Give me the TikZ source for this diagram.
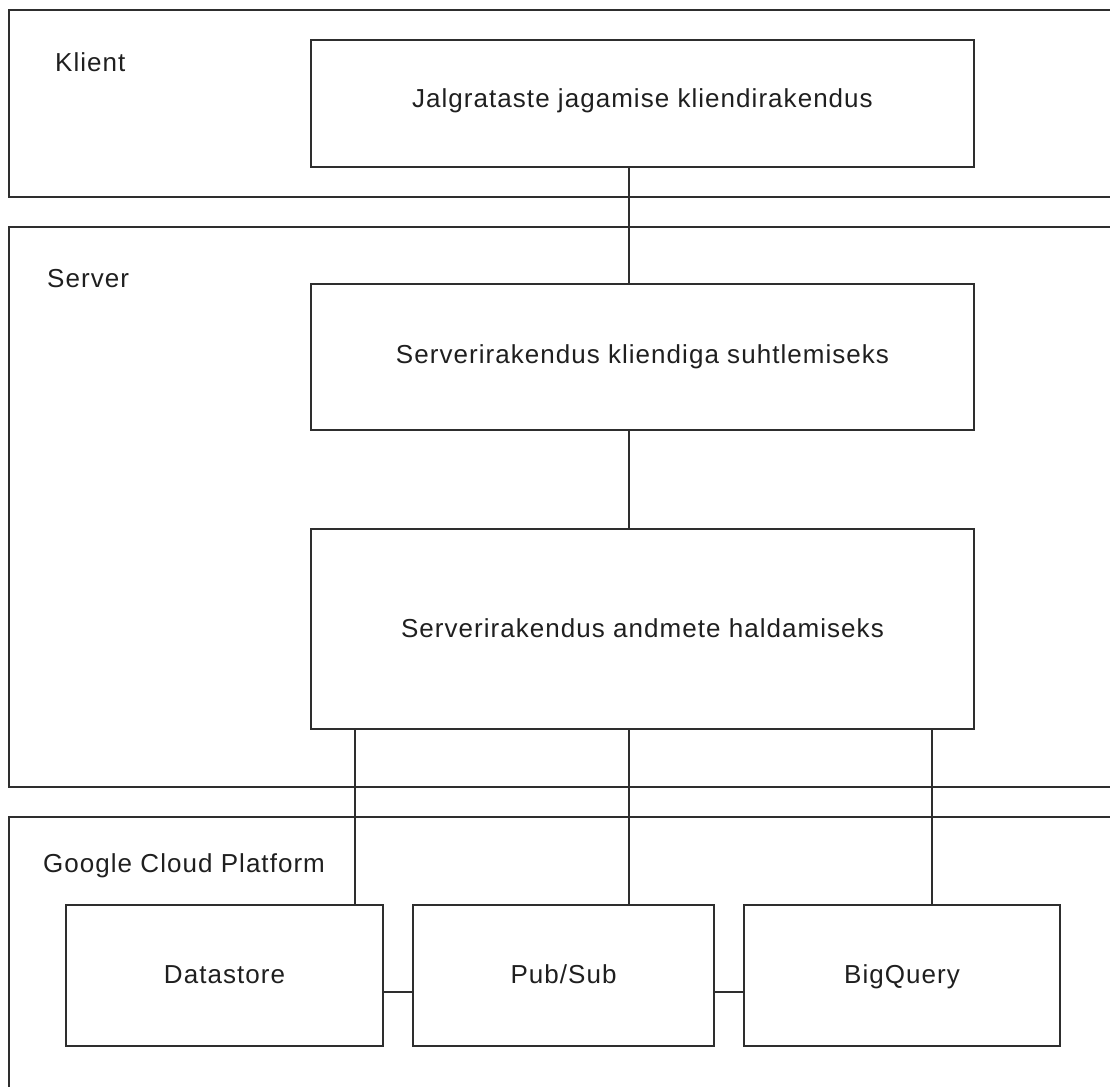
\documentclass[tikz,border=0pt]{standalone}
\usepackage{fontspec}
\setmainfont[LetterSpace=4]{Liberation Sans}
\usetikzlibrary{calc}
\begin{document}
\begin{tikzpicture}[x=1pt,y=-1pt,
  every node/.style={font=\fontsize{26}{31}\selectfont, text=black!88},
  ln/.style={draw=black!82, line width=1.7pt},
  box/.style={ln, rectangle, inner sep=0pt, outer sep=0pt, anchor=north west},
  lbl/.style={anchor=base west, inner sep=0pt}
]
\useasboundingbox (0,0) rectangle (1110,1086);
\clip (0,0) rectangle (1110,1086);
% containers
\node[box, minimum width=1130pt, minimum height=187pt] (klient) at (9,10) {};
\node[box, minimum width=1130pt, minimum height=560pt] (server) at (9,227) {};
\node[box, minimum width=1130pt, minimum height=300pt] (gcp) at (9,817) {};
\node[lbl] (klientlbl) at (55,72) {Klient};
\node[lbl] (serverlbl) at (47,287) {Server};
\node[lbl] (gcplbl) at (43,872) {Google Cloud Platform};
% boxes
\node[box, minimum width=663pt, minimum height=127pt] (client) at (311,40) {};
\node[anchor=base, inner sep=0pt] (clienttxt) at ($(client.center)+(0,4)$) {Jalgrataste jagamise kliendirakendus};
\node[box, minimum width=663pt, minimum height=146pt] (app1) at (311,284) {};
\node[anchor=base, inner sep=0pt] (app1txt) at ($(app1.center)+(0,6)$) {Serverirakendus kliendiga suhtlemiseks};
\node[box, minimum width=663pt, minimum height=200pt] (app2) at (311,529) {};
\node[anchor=base, inner sep=0pt] (app2txt) at ($(app2.center)+(0,8)$) {Serverirakendus andmete haldamiseks};
\node[box, minimum width=317pt, minimum height=141pt] (ds) at (66,905) {};
\node[anchor=base, inner sep=0pt] (dstxt) at ($(ds.center)+(0,8)$) {Datastore};
\node[box, minimum width=301pt, minimum height=141pt] (ps) at (413,905) {};
\node[anchor=base, inner sep=0pt] (pstxt) at ($(ps.center)+(0,8)$) {Pub/Sub};
\node[box, minimum width=316pt, minimum height=141pt] (bq) at (744,905) {};
\node[anchor=base, inner sep=0pt] (bqtxt) at ($(bq.center)+(0,8)$) {BigQuery};
% connectors
\coordinate (cx) at (629,0);
\coordinate (c1) at (355,0);
\coordinate (c3) at (932,0);
\coordinate (hy) at (0,992);
\draw[ln] (client.south -| cx) -- (app1.north -| cx);
\draw[ln] (app1.south -| cx) -- (app2.north -| cx);
\draw[ln] (app2.south -| c1) -- (ds.north -| c1);
\draw[ln] (app2.south -| cx) -- (ps.north -| cx);
\draw[ln] (app2.south -| c3) -- (bq.north -| c3);
\draw[ln] (ds.east |- hy) -- (ps.west |- hy);
\draw[ln] (ps.east |- hy) -- (bq.west |- hy);
\end{tikzpicture}
\end{document}
